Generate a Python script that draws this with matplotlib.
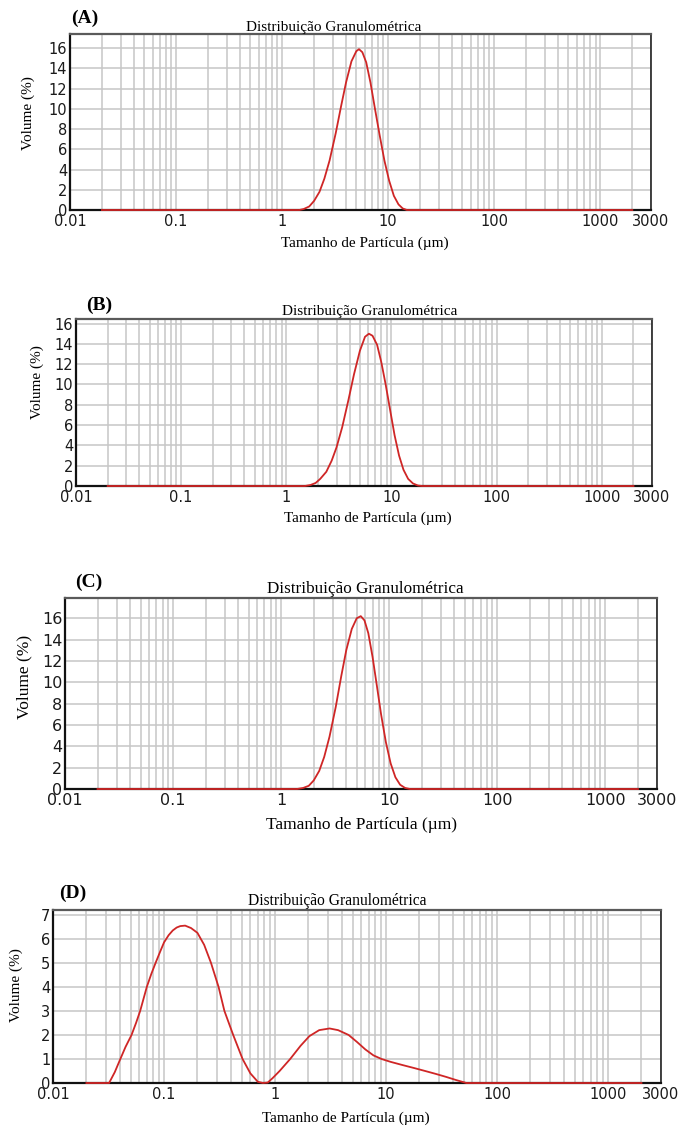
import matplotlib
matplotlib.use("Agg")
import matplotlib.pyplot as plt
from matplotlib.ticker import LogLocator, FixedLocator, FixedFormatter, NullFormatter

# particle size (um) and volume (%) for each sample
size_a = [0.02, 1.45, 1.6, 1.8, 2.0, 2.25, 2.5, 2.8, 3.2, 3.6, 4.0, 4.5, 5.0, 5.3,
          5.7, 6.2, 6.8, 7.5, 8.3, 9.2, 10.2, 11.3, 12.5, 13.7, 15.0, 2000]
vol_a = [0, 0, 0.1, 0.35, 0.9, 1.8, 3.1, 4.9, 7.6, 10.3, 12.6, 14.7, 15.7, 15.9,
         15.6, 14.6, 12.6, 10.0, 7.4, 4.9, 2.9, 1.4, 0.55, 0.15, 0, 0]

size_b = [0.02, 1.5, 1.7, 1.9, 2.1, 2.4, 2.7, 3.0, 3.4, 3.9, 4.4, 5.0, 5.6, 6.1,
          6.6, 7.3, 8.0, 8.8, 9.7, 10.7, 11.8, 13.0, 14.4, 16.0, 17.8, 19.5, 2000]
vol_b = [0, 0, 0.1, 0.3, 0.7, 1.4, 2.5, 3.8, 5.8, 8.5, 11.0, 13.3, 14.7, 15.0,
         14.8, 13.9, 12.2, 10.0, 7.5, 5.0, 3.0, 1.6, 0.7, 0.25, 0.05, 0, 0]

size_c = [0.02, 1.4, 1.6, 1.8, 2.0, 2.25, 2.5, 2.8, 3.2, 3.6, 4.0, 4.5, 5.0, 5.45,
          5.9, 6.4, 7.0, 7.7, 8.4, 9.3, 10.3, 11.4, 12.6, 14.0, 15.5, 2000]
vol_c = [0, 0, 0.1, 0.3, 0.8, 1.7, 3.0, 4.9, 7.7, 10.6, 13.0, 15.0, 16.0, 16.2,
         15.8, 14.6, 12.4, 9.6, 7.0, 4.4, 2.4, 1.1, 0.4, 0.1, 0, 0]

size_d = [0.02, 0.032, 0.036, 0.04, 0.045, 0.051, 0.056, 0.061, 0.07, 0.077, 0.084,
          0.092, 0.1, 0.11, 0.12, 0.13, 0.14, 0.155, 0.175, 0.2, 0.23, 0.265, 0.31,
          0.35, 0.42, 0.51, 0.6, 0.7, 0.78, 0.86, 0.95, 1.1, 1.37, 1.7, 2.04, 2.5,
          3.1, 3.7, 4.6, 5.5, 6.5, 7.7, 9.1, 11.0, 14.0, 18.0, 22.5, 28, 35, 43, 53,
          2000]
vol_d = [0, 0, 0.45, 0.95, 1.5, 2.0, 2.5, 3.0, 4.0, 4.55, 5.0,
         5.45, 5.85, 6.15, 6.35, 6.47, 6.53, 6.55, 6.45, 6.25, 5.75, 5.0, 4.0,
         3.0, 2.0, 1.0, 0.4, 0.05, 0, 0.02, 0.2, 0.5, 1.0, 1.55, 1.95, 2.2,
         2.27, 2.2, 2.0, 1.7, 1.4, 1.15, 1.0, 0.88, 0.75, 0.62, 0.5, 0.38, 0.25, 0.12, 0,
         0]

x_ticks = [0.01, 0.1, 1, 10, 100, 1000, 3000]
x_tick_labels = ["0.01", "0.1", "1", "10", "100", "1000", "3000"]

W, H = 682, 1127
fig = plt.figure(figsize=(W / 100, H / 100), dpi=100)

serif = "Liberation Serif"
sans = "DejaVu Sans"
red = "#cf2626"

panels = [
    # axes box is (left, top, right, bottom) in pixels; text positions are pixel centres
    dict(letter="(A)", x=size_a, y=vol_a, ymax=17.4, ystep=2, box=(70, 34, 651, 210),
         lab=(85, 18), title=(334, 27), xl=(365, 243), yl=(28, 113), fs=10.5, tfs=11, lfs=11),
    dict(letter="(B)", x=size_b, y=vol_b, ymax=16.45, ystep=2, box=(76, 319, 652, 486),
         lab=(99, 305), title=(370, 312), xl=(368, 518), yl=(37, 382), fs=10.5, tfs=11, lfs=11),
    dict(letter="(C)", x=size_c, y=vol_c, ymax=17.9, ystep=2, box=(65, 598, 657, 789),
         lab=(89, 582), title=(365, 589), xl=(361, 825), yl=(24, 677), fs=11.5, tfs=12.3, lfs=12.5),
    dict(letter="(D)", x=size_d, y=vol_d, ymax=7.2, ystep=1, box=(53, 910, 661, 1083),
         lab=(73, 893), title=(337, 901), xl=(346, 1118), yl=(16, 985), fs=10.5, tfs=11.2, lfs=11),
]


def ftext(px, py, s, **kw):
    fig.text(px / W, 1 - py / H, s, ha="center", va="center", **kw)


for p in panels:
    l, t, r, b = p["box"]
    ax = fig.add_axes([l / W, 1 - b / H, (r - l) / W, (b - t) / H])
    ax.plot(p["x"], p["y"], color=red, lw=1.3, zorder=5, clip_on=False)
    ax.set_xscale("log")
    ax.set_xlim(0.01, 3000)
    ax.set_ylim(0, p["ymax"])

    ax.xaxis.set_major_locator(FixedLocator(x_ticks))
    ax.xaxis.set_major_formatter(FixedFormatter(x_tick_labels))
    ax.xaxis.set_minor_locator(LogLocator(base=10, subs=range(2, 10), numticks=20))
    ax.xaxis.set_minor_formatter(NullFormatter())
    yt = [i * p["ystep"] for i in range(int(p["ymax"] // p["ystep"]) + 1)]
    ax.set_yticks(yt)

    ax.grid(True, which="both", axis="x", color="#c6c6c6", lw=1.1)
    ax.grid(True, which="major", axis="y", color="#c6c6c6", lw=1.1)
    ax.set_axisbelow(True)
    ax.tick_params(which="both", length=0, labelsize=p["fs"], labelcolor="#1a1a1a")
    ax.tick_params(axis="x", pad=3)
    ax.tick_params(axis="y", pad=2)
    for lab in ax.get_xticklabels() + ax.get_yticklabels():
        lab.set_family(sans)

    ax.spines["left"].set(color="#111111", lw=1.6)
    ax.spines["bottom"].set(color="#111111", lw=1.6, zorder=4)
    ax.spines["top"].set(color="#5a5a5a", lw=1.6)
    ax.spines["right"].set(color="#222222", lw=1.2)

    ftext(*p["lab"], p["letter"], family=serif, fontweight="bold", fontsize=14)
    ftext(*p["title"], "Distribuição Granulométrica", family=serif, fontsize=p["tfs"])
    ftext(*p["xl"], "Tamanho de Partícula (µm)", family=serif, fontsize=p["lfs"])
    ftext(*p["yl"], "Volume (%)", family=serif, fontsize=p["lfs"], rotation=90)

fig.savefig("out.png", dpi=100, facecolor="white")
